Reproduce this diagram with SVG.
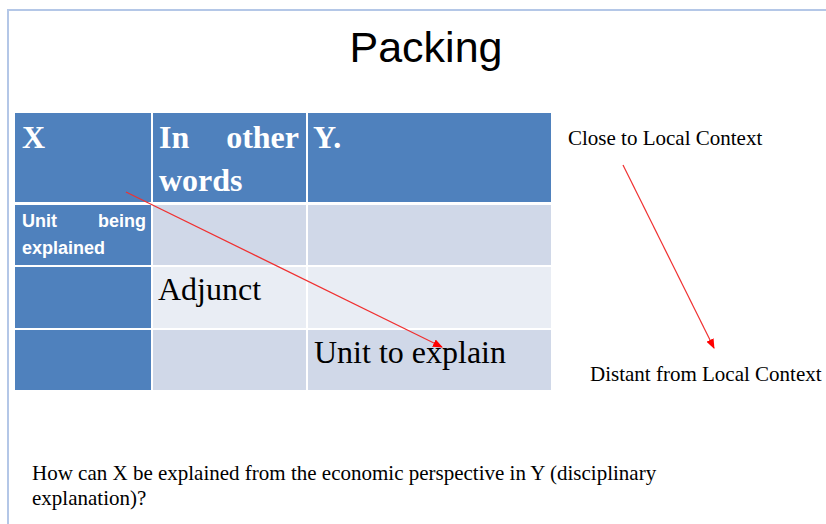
<svg xmlns="http://www.w3.org/2000/svg" width="826" height="524" viewBox="0 0 826 524">
<style>
.hdr{fill:#4F81BD}
.c1{fill:#D0D8E8}
.c2{fill:#E9EDF4}
.grid{stroke:#FFFFFF;stroke-width:2;fill:none}
.th{font-family:"Liberation Serif","Times New Roman",serif;font-weight:bold;font-size:32px;fill:#FFFFFF}
.tc{font-family:"Liberation Serif","Times New Roman",serif;font-size:32px;fill:#000000}
.sb{font-family:"Liberation Sans",Arial,sans-serif;font-weight:bold;font-size:18px;fill:#FFFFFF}
.lbl{font-family:"Liberation Serif","Times New Roman",serif;font-size:21px;fill:#000000}
.arrow{stroke:#F03030;stroke-width:1.2;fill:none;marker-end:url(#ah)}
</style>
<defs>
<marker id="ah" markerWidth="10" markerHeight="8" refX="9" refY="4" orient="auto" markerUnits="userSpaceOnUse">
<path d="M0,0 L10,4 L0,8 Z" fill="#FF0000"/>
</marker>
</defs>
<rect width="826" height="524" fill="#FFFFFF"/>
<path d="M8,524 L8,10 L826,10" stroke="#B4C7E7" stroke-width="2" fill="none"/>
<g id="title">
<text x="426" y="62" text-anchor="middle" font-family="'Liberation Sans',Arial,sans-serif" font-size="43" fill="#000000">Packing</text>
</g>
<g id="table">
<rect x="15" y="113" width="536" height="91" class="hdr"/>
<rect x="15" y="204" width="137" height="186" class="hdr"/>
<rect x="152" y="204" width="399" height="62" class="c1"/>
<rect x="152" y="266" width="399" height="63" class="c2"/>
<rect x="152" y="329" width="399" height="61" class="c1"/>
<path d="M152,113 V390 M307,113 V390 M15,204 H551 M15,266 H551 M15,329 H551" class="grid"/>
<path d="M15,203.5 H551" stroke="#FFFFFF" stroke-width="3"/>
</g>
<g id="cell-x"><text x="22" y="148" class="th">X</text></g>
<g id="cell-inotherwords">
<text x="159" y="148" class="th">In</text>
<text x="299" y="148" class="th" text-anchor="end">other</text>
<text x="159" y="191" class="th">words</text>
</g>
<g id="cell-y"><text x="313" y="148" class="th">Y.</text></g>
<g id="cell-unit-being">
<text x="22" y="227" class="sb">Unit</text>
<text x="146" y="227" class="sb" text-anchor="end">being</text>
<text x="22" y="254" class="sb">explained</text>
</g>
<g id="cell-adjunct"><text x="158" y="300" class="tc">Adjunct</text></g>
<g id="cell-unit-to-explain"><text x="314" y="363" class="tc">Unit to explain</text></g>
<g id="close-label"><text x="568" y="145" class="lbl">Close to Local Context</text></g>
<g id="distant-label"><text x="590" y="381" class="lbl">Distant from Local Context</text></g>
<g id="question">
<text x="32" y="480" class="lbl">How can X be explained from the economic perspective in Y (disciplinary</text>
<text x="32" y="505" class="lbl">explanation)?</text>
</g>
<g id="connectors">
<line x1="126" y1="192" x2="442" y2="347" class="arrow"/>
<line x1="623" y1="165" x2="714" y2="348" class="arrow"/>
</g>
</svg>
